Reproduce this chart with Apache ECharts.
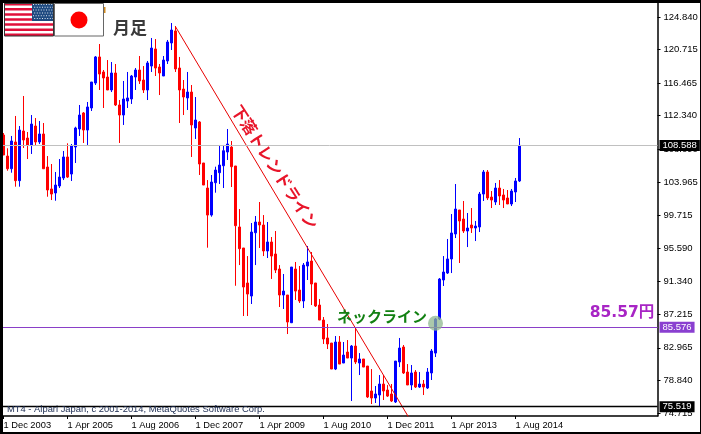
<!DOCTYPE html>
<html><head><meta charset="utf-8">
<style>html,body{margin:0;padding:0;background:#fff}#c{width:701px;height:434px}</style>
<script src="https://cdn.jsdelivr.net/npm/echarts@6/dist/echarts.min.js"></script>
</head><body><div id="c"></div>
<script>
const monthNames=['Jan','Feb','Mar','Apr','May','Jun','Jul','Aug','Sep','Oct','Nov','Dec'];
const opens=[109.90,107.24,105.63,109.02,104.12,110.41,109.52,108.64,111.04,109.02,110.03,105.85,103.07,102.56,103.45,104.46,107.12,104.96,108.38,110.66,
112.69,110.53,113.32,116.48,119.78,117.88,117.24,115.60,117.75,113.70,112.43,114.20,114.46,117.24,118.13,116.86,115.60,118.63,120.79,118.51,
117.37,119.27,121.55,123.07,118.38,115.72,114.59,115.34,110.79,111.55,106.36,103.19,99.77,103.86,105.13,106.01,107.75,108.38,105.98,98.26,
95.60,91.17,89.52,97.53,98.89,98.51,95.22,96.36,94.84,92.94,89.65,89.65,86.14,92.94,90.28,88.89,93.32,93.95,91.17,88.38,
86.48,84.21,83.57,80.28,83.70,81.04,82.43,81.67,83.19,81.04,81.55,80.66,77.50,76.61,76.99,78.38,77.62,77.12,76.11,81.17,
83.07,79.90,78.26,79.90,78.00,78.38,77.88,79.78,82.30,86.61,91.55,92.43,94.21,97.37,100.41,99.27,97.75,98.51,98.13,98.26,
102.43,105.22,102.05,101.42,103.19,102.31,101.93,101.17,102.69,104.08];
const closes=[107.37,105.63,109.14,104.12,110.53,109.27,108.64,111.29,109.02,110.03,105.63,102.94,102.43,103.57,104.58,107.12,104.58,108.51,110.79,112.43,
110.53,113.45,116.61,119.78,117.62,117.12,115.60,117.75,113.70,112.43,114.46,114.59,117.37,118.13,116.74,115.60,119.02,120.91,118.38,117.75,
119.39,121.67,123.19,118.26,115.60,114.71,115.34,111.17,111.80,106.23,103.57,99.77,103.95,105.47,106.10,107.91,108.76,105.89,98.42,95.51,
90.66,89.77,97.62,98.89,98.51,95.22,96.36,94.58,92.81,89.65,90.15,86.23,93.19,90.15,88.89,93.44,93.83,91.04,88.26,86.48,
84.08,83.45,80.28,83.70,80.91,82.05,81.67,83.19,81.17,81.55,80.53,76.74,76.61,77.12,78.38,77.50,76.86,76.23,81.29,82.94,
79.78,78.26,79.78,78.00,78.38,78.00,79.90,82.56,86.61,91.67,92.56,94.21,97.50,100.53,99.02,97.75,98.13,98.13,98.38,102.43,
105.22,101.93,101.67,103.19,102.18,101.67,101.17,102.81,104.08,108.59];
const lows=[107.37,105.38,105.13,103.36,103.36,108.26,106.86,107.50,108.64,108.76,105.63,102.09,101.67,101.58,103.19,104.20,104.46,104.08,106.36,109.78,
108.89,108.64,112.94,116.23,115.60,113.32,115.60,115.34,113.57,108.89,111.17,113.32,113.83,115.60,116.36,115.22,114.33,117.88,117.37,114.96,
117.37,118.89,120.66,117.88,111.42,112.43,113.07,107.12,109.40,104.84,103.57,95.64,99.56,102.60,103.70,103.19,106.74,103.32,90.82,93.44,
86.99,86.99,88.51,93.44,95.60,94.58,94.33,91.68,92.43,88.13,87.88,84.71,86.10,89.02,88.64,88.00,91.55,88.38,88.13,86.48,
83.45,82.81,80.28,80.15,80.91,81.04,81.67,76.23,80.91,79.52,80.53,76.61,75.85,75.98,75.60,76.36,76.74,76.11,75.98,80.53,
79.65,78.26,77.62,77.88,77.88,76.99,77.75,78.89,81.80,86.48,90.79,92.31,92.43,96.86,93.70,97.50,95.72,97.50,96.48,97.62,
101.55,101.67,100.66,101.04,101.04,100.66,101.17,100.91,101.42,103.95];
const highs=[110.15,108.22,109.78,112.31,111.04,114.84,110.28,112.43,112.05,111.67,111.42,107.24,106.23,105.22,106.86,107.88,108.85,108.76,110.95,113.70,
112.81,114.08,116.61,119.90,121.42,118.13,119.39,119.14,118.89,114.33,116.74,117.88,117.50,118.38,119.90,118.63,119.27,122.18,122.05,118.89,
119.90,121.93,124.08,123.70,119.78,116.86,117.88,116.23,114.71,111.67,106.36,104.20,104.84,105.89,108.64,108.64,110.66,109.14,105.98,100.53,
95.60,94.58,98.76,99.65,101.42,99.77,98.89,96.99,97.75,93.44,92.31,89.65,93.19,93.83,93.32,93.70,95.85,95.09,91.17,89.14,
86.86,85.98,83.57,84.46,84.46,83.70,83.95,83.32,85.60,82.30,81.55,80.66,80.28,78.13,79.52,79.52,78.25,78.38,81.29,84.21,
83.32,80.91,80.79,80.15,79.90,78.89,80.41,82.81,86.74,91.80,94.58,96.74,99.90,103.70,100.41,101.55,100.03,100.66,99.02,102.69,
105.47,105.47,102.81,103.83,104.20,103.07,102.94,103.07,104.46,109.52];
const yTicks=[124.84,120.715,116.465,112.34,108.09,103.965,99.715,95.59,91.34,87.215,82.965,78.84,74.715];
const priceLines=[{value:108.588,line:'#c0c0c0',box:'#000000'},{value:85.576,line:'#8a3fc8',box:'#8a3fd0'},{value:75.519,line:'#000000',box:'#000000'}];
const trendLine=[[43,123.61],[102,73.57]];
const necklinePoint=[[108,86.07]];

const ohlc=opens.map((o,i)=>[o,closes[i],lows[i],highs[i]]);
const slots=164;
const cats=[];
for(let i=0;i<slots;i++){
  if(i<ohlc.length){const m=(11+i)%12,y=2003+Math.floor((11+i)/12);cats.push('1 '+monthNames[m]+' '+y);}
  else cats.push('');
}
const FONT='"Liberation Sans"';
const JP='"Noto Sans CJK JP"';
const flag=[];
flag.push({type:'rect',shape:{x:4,y:3,width:50,height:33},style:{fill:'#fff'},z:20});
for(let s=0;s<13;s+=2){flag.push({type:'rect',shape:{x:4,y:3+s*33/13,width:50,height:33/13},style:{fill:'#e0103a'},z:21});}
flag.push({type:'rect',shape:{x:32,y:3,width:22,height:18},style:{fill:'#1f4a80'},z:22});
for(let r=0;r<6;r++)for(let c=0;c<8;c++){flag.push({type:'rect',shape:{x:33+c*2.6+(r%2)*1.2,y:4+r*2.8,width:1,height:1},style:{fill:'#dfe6f0'},z:23});}
flag.push({type:'rect',shape:{x:4.5,y:3.5,width:49,height:32.5},style:{fill:'none',stroke:'#333',lineWidth:1},z:24});
flag.push({type:'rect',shape:{x:54.5,y:3.5,width:49,height:32.5},style:{fill:'#fff',stroke:'#666',lineWidth:1},z:24});
flag.push({type:'circle',shape:{cx:79,cy:20,r:8.5},style:{fill:'#ff0000'},z:25});
flag.push({type:'rect',shape:{x:104,y:7,width:1.5,height:6},style:{fill:'#d08a20'},z:20});

const chart=echarts.init(document.getElementById('c'),null,{renderer:'canvas'});
chart.setOption({
  animation:false,
  backgroundColor:'#fff',
  grid:{left:1.5,top:3,width:656,height:413,containLabel:false},
  xAxis:{type:'category',data:cats,boundaryGap:true,
    axisLine:{show:true,lineStyle:{color:'#000',width:1.5}},
    axisTick:{show:true,alignWithLabel:true,length:3,lineStyle:{color:'#000'},interval:(i)=>i%16===0&&i<ohlc.length},
    axisLabel:{show:true,interval:(i)=>i%16===0&&i<ohlc.length,align:'left',margin:5,color:'#000',fontFamily:FONT,fontSize:9.3,hideOverlap:false},
    splitLine:{show:false}},
  yAxis:{type:'value',position:'right',min:74.335,max:126.61,scale:true,
    axisLine:{show:true,onZero:false,lineStyle:{color:'#000',width:1.5}},
    axisTick:{show:true,length:3,lineStyle:{color:'#000'},customValues:yTicks},
    axisLabel:{show:true,customValues:yTicks,margin:6,color:'#000',fontFamily:FONT,fontSize:9.5,formatter:(v)=>v.toFixed(3),hideOverlap:false,showMinLabel:true,showMaxLabel:true},
    splitLine:{show:false}},
  series:[
    {type:'line',name:'levels',data:[],z:1,silent:true,
     markLine:{silent:true,symbol:'none',animation:false,precision:3,
       data:priceLines.map(p=>({yAxis:p.value,lineStyle:{color:p.line,width:p.value<80?1.3:1,type:'solid'},
         label:{show:true,position:'end',distance:2,formatter:p.value.toFixed(3),color:'#fff',backgroundColor:p.box,padding:[1,3,0,3],fontFamily:FONT,fontSize:9.5}}))}},
    {type:'candlestick',name:'USDJPY',data:ohlc,z:3,barWidth:2,
     itemStyle:{color:'#0000ff',color0:'#ff0000',borderColor:'#0000ff',borderColor0:'#ff0000',borderWidth:1}},
    {type:'line',name:'trend',data:trendLine,z:4,showSymbol:false,symbol:'none',silent:true,clip:true,lineStyle:{color:'#e80000',width:1}},
    {type:'scatter',name:'neck',data:necklinePoint,z:5,symbolSize:15,silent:true,itemStyle:{color:'#8fb78f',opacity:0.75}}
  ],
  graphic:[
    {type:'group',silent:true,children:flag},
    {type:'text',z:30,silent:true,style:{x:130,y:28,text:'月足',fill:'#3a3a3a',font:'bold 17px '+JP,textAlign:'center',textVerticalAlign:'middle'}},
    {type:'text',z:30,silent:true,x:275,y:167,rotation:-57*Math.PI/180,style:{x:0,y:0,text:'下落トレンドライン',fill:'#e8152a',font:'bold 16px '+JP,textAlign:'center',textVerticalAlign:'middle'}},
    {type:'text',z:30,silent:true,style:{x:382,y:316,text:'ネックライン',fill:'#128012',font:'bold 15px '+JP,textAlign:'center',textVerticalAlign:'middle'}},
    {type:'text',z:30,silent:true,style:{x:622,y:313,text:'85.57円',fill:'#a825c5',font:'bold 15.5px "DejaVu Sans", '+JP,textAlign:'center',textVerticalAlign:'middle'}},
    {type:'text',z:30,silent:true,style:{x:7,y:409,text:'MT4 - Alpari Japan, c 2001-2014, MetaQuotes Software Corp.',fill:'#1a2a50',font:'9.4px '+FONT,textAlign:'left',textVerticalAlign:'middle'}},
    {type:'rect',z:40,silent:true,shape:{x:0,y:0,width:701,height:3},style:{fill:'#000'}},
    {type:'rect',z:40,silent:true,shape:{x:0,y:0,width:3,height:434},style:{fill:'#000'}},
    {type:'rect',z:40,silent:true,shape:{x:700,y:0,width:1,height:434},style:{fill:'#000'}},
    {type:'rect',z:40,silent:true,shape:{x:0,y:432,width:701,height:2},style:{fill:'#000'}}
  ]
});
</script></body></html>
